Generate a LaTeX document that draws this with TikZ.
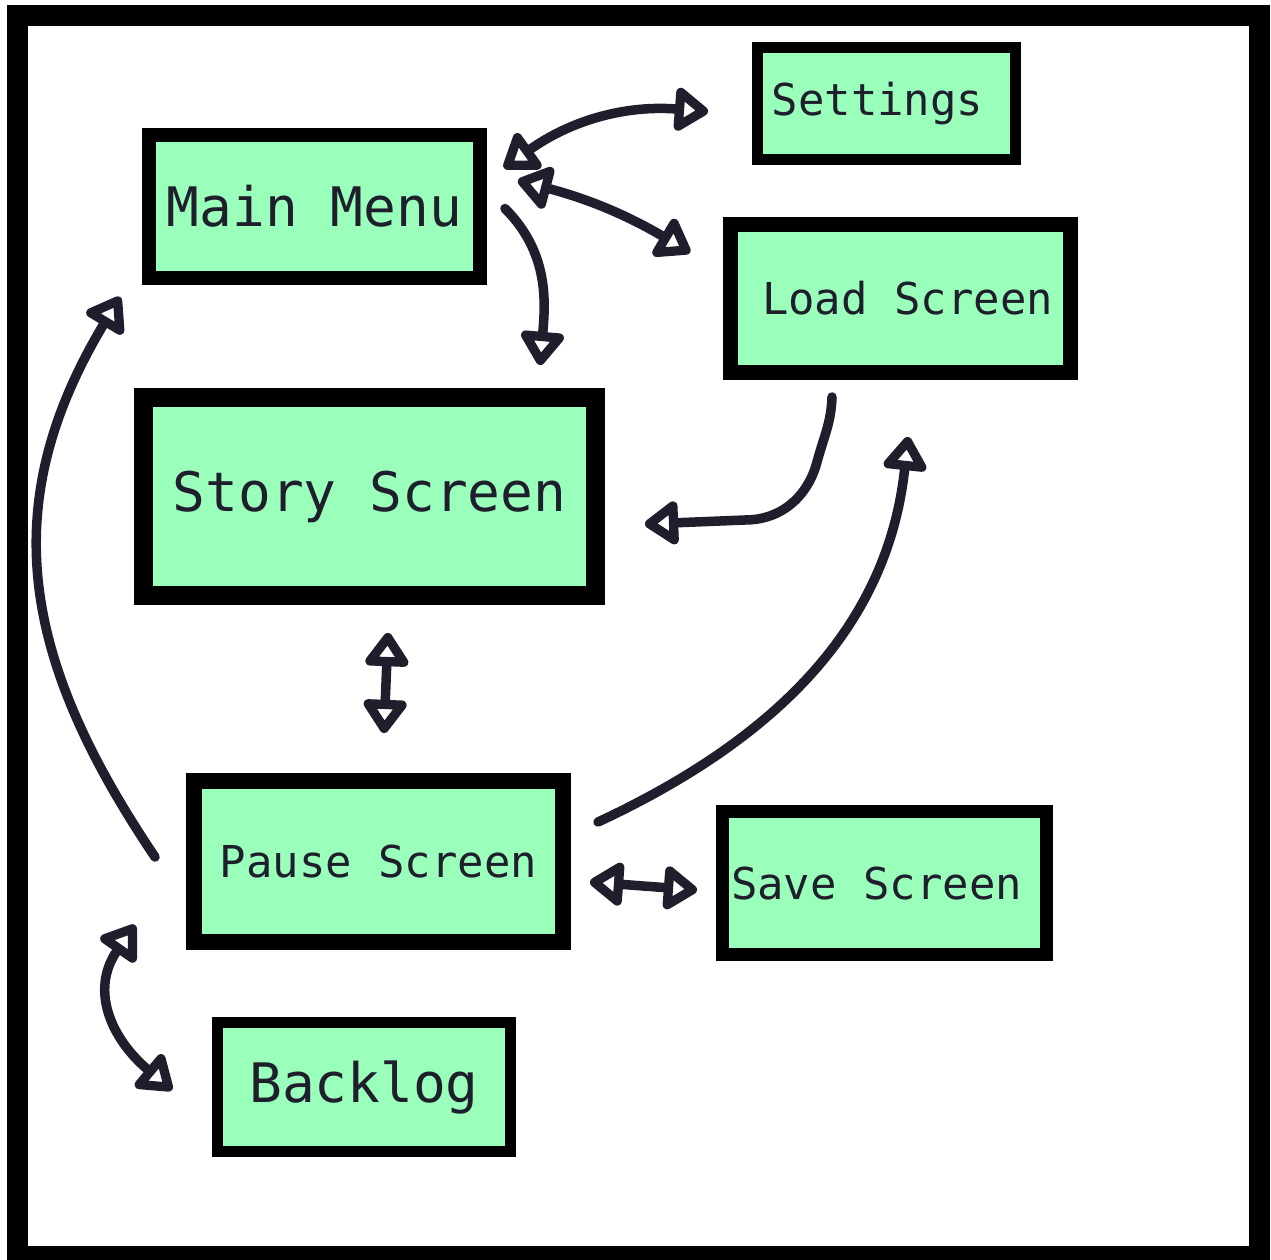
\documentclass[tikz,border=0pt]{standalone}
\usepackage{fontspec}
\setmonofont{DejaVu Sans Mono}
\usetikzlibrary{arrows.meta,calc}
\definecolor{screengreen}{RGB}{153,255,187}
\definecolor{ink}{RGB}{30,30,44}
\tikzset{
  screen/.style={draw=black, fill=screengreen, text=ink, inner sep=0pt, font=\ttfamily\fontsize{25}{30}\selectfont},
  bigscreen/.style={screen, font=\ttfamily\fontsize{31}{37}\selectfont},
  head/.tip={Triangle[open, length=0.74cm, width=0.98cm, round]},
  link/.style={draw=ink, line width=0.19cm, line cap=round, head-head},
  onelink/.style={draw=ink, line width=0.19cm, line cap=round, -head}
}
\begin{document}
\begin{tikzpicture}[x=0.02cm, y=-0.02cm]
    \useasboundingbox (0,0) rectangle (1271,1259);
    \fill[white] (0,0) rectangle (1271,1259);
    \draw[line width=0.42cm] (17.5,15.5) rectangle (1259,1256);

    \node[bigscreen, line width=0.28cm, minimum width=6.62cm, minimum height=2.86cm] (mainmenu) at (314.5,206.5) {Main Menu};
    \node[screen, line width=0.22cm, minimum width=5.16cm, minimum height=2.24cm] (settings) at (886.5,103.5) {\hspace*{-0.36cm}Settings};
    \node[screen, line width=0.3cm, minimum width=6.8cm, minimum height=2.96cm] (load) at (900.5,298.5) {\hspace*{0.28cm}Load Screen};
    \node[bigscreen, line width=0.38cm, minimum width=9.04cm, minimum height=3.96cm] (story) at (369.5,496.5) {Story Screen};
    \node[screen, line width=0.32cm, minimum width=7.38cm, minimum height=3.22cm] (pause) at (378.5,861.5) {Pause Screen};
    \node[screen, line width=0.26cm, minimum width=6.48cm, minimum height=2.86cm] (save) at (884.5,883) {\hspace*{-0.32cm}Save Screen};
    \node[bigscreen, line width=0.22cm, minimum width=5.86cm, minimum height=2.58cm] (backlog) at (364,1087) {Backlog};

    % main menu links
    \draw[link] ($(mainmenu.north east)+(17,40)$) to[bend left=20] ($(settings.west)+(-44,8)$);
    \draw[link] ($(mainmenu.east)+(31,-26)$) to[bend left=8] ($(load.west)+(-33,-46)$);
    \draw[onelink] ($(mainmenu.east)+(18,2)$) to[out=-45, in=85] ($(story.north east)+(-65,-23)$);

    % back to story
    \draw[onelink] ($(load.south)+(-68.5,17)$) to[out=-92, in=75] ++(-15,65)
        to[out=-105, in=0] ++(-72,58) -- ($(story.east)+(40,27.5)$);
    \draw[link] ($(story.south)+(18.5,28)$) -- ($(pause.north)+(5.5,-40)$);

    % pause screen links
    \draw[onelink] ($(pause.north east)+(27,49)$) to[out=25, in=-96] ($(load.south)+(7.5,57)$);
    \draw[onelink] ($(pause.west)+(-31,-4.5)$) to[out=124, in=-121, looseness=1.1] ($(mainmenu.south west)+(-22,12)$);
    \draw[link] ($(pause.south west)+(-51,-25)$) to[out=-125, in=140, looseness=1.2] ($(backlog.west)+(-40,3)$);
    \draw[link] ($(pause.east)+(19,20.5)$) -- ($(save.west)+(-19,7)$);
\end{tikzpicture}
\end{document}
